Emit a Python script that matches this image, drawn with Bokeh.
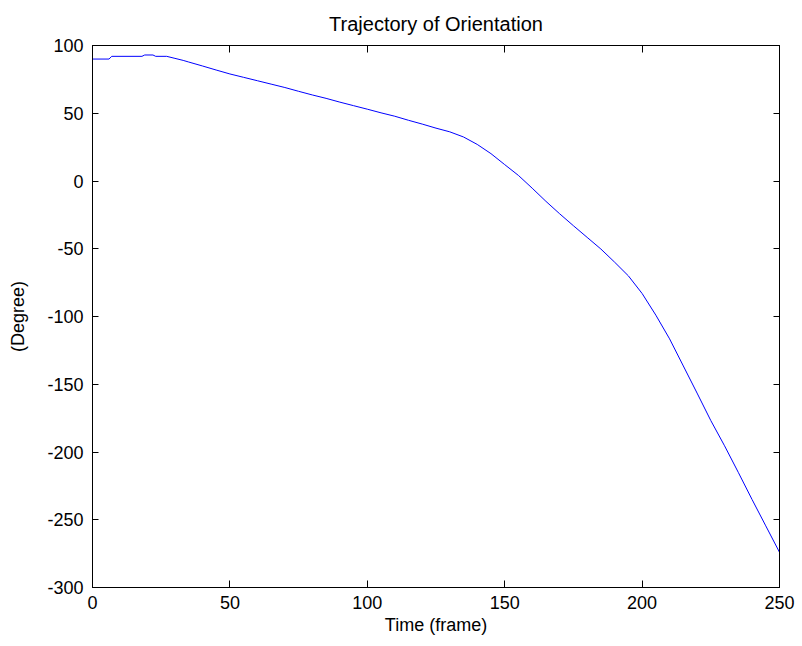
from bokeh.plotting import figure
from bokeh.models import Range1d, FixedTicker, LinearAxis
from bokeh.embed import file_html
from bokeh.resources import INLINE

# --- data ---
frames = [0, 6, 7, 18, 19, 22, 23, 27, 30, 33, 35, 40, 45, 50, 55, 60, 65, 70, 75, 80,
          85, 90, 95, 100, 105, 110, 115, 120, 125, 130, 135, 140, 145, 150, 155, 160,
          165, 170, 175, 180, 185, 190, 195, 200, 205, 210, 215, 220, 225, 230, 235,
          240, 245, 250]
degrees = [90, 90, 92, 92, 93, 93, 92, 92, 90.5, 89, 87.8, 84.9, 81.9, 79, 76.5, 74,
           71.5, 69, 66.2, 63.5, 61, 58.2, 55.6, 53, 50.3, 47.8, 44.8, 42, 39, 36.3,
           32.5, 27, 20.2, 12.1, 4.1, -5.3, -15, -24.2, -33, -41.6, -50.2, -59.9, -70,
           -83, -99, -116.5, -136.5, -156.5, -176.8, -195.4, -215, -235, -254.5, -274]

x_ticks = [0, 50, 100, 150, 200, 250]
y_ticks = [-300, -250, -200, -150, -100, -50, 0, 50, 100]
y_tick_labels = {t: str(t) for t in y_ticks}
x_tick_labels = {t: str(t) for t in x_ticks}

FONT = "Liberation Sans"

p = figure(width=802, height=646, output_backend="svg", toolbar_location=None,
           x_range=Range1d(0, 250), y_range=Range1d(-300, 100),
           title="Trajectory of Orientation",
           min_border_left=92, min_border_right=23, min_border_top=45,
           min_border_bottom=59)

p.line(frames, degrees, line_color="#0000ff", line_width=1)

p.background_fill_color = "white"
p.border_fill_color = "white"
p.outline_line_color = "black"
p.outline_line_width = 1
p.xgrid.visible = False
p.ygrid.visible = False

p.title.align = "center"
p.title.text_font = FONT
p.title.text_font_size = "20px"
p.title.text_font_style = "normal"
p.title.text_color = "black"
p.title.standoff = 21

for ax in p.xaxis:
    ax.ticker = FixedTicker(ticks=x_ticks)
    ax.major_label_overrides = x_tick_labels
    ax.axis_label = "Time (frame)"
for ax in p.yaxis:
    ax.ticker = FixedTicker(ticks=y_ticks)
    ax.major_label_overrides = y_tick_labels
    ax.axis_label = "(Degree)"

for ax in list(p.xaxis) + list(p.yaxis):
    ax.major_label_text_font = FONT
    ax.major_label_text_font_size = "18px"
    ax.major_label_text_color = "black"
    ax.axis_label_text_font = FONT
    ax.axis_label_text_font_size = "18px"
    ax.axis_label_text_font_style = "normal"
    ax.axis_label_text_color = "black"
    ax.minor_tick_line_color = None
    ax.major_tick_out = 0
    ax.axis_line_color = "black"
    ax.major_tick_line_color = "black"

p.xaxis.major_tick_in = 7
p.yaxis.major_tick_in = 6
p.xaxis.major_label_standoff = 8
p.xaxis.axis_label_standoff = 3
p.yaxis.major_label_standoff = 9
p.yaxis.axis_label_standoff = 16

# ticks on top and right (box), no labels drawn
top = LinearAxis(ticker=FixedTicker(ticks=x_ticks), major_label_text_color=None,
                 major_label_text_font_size="1px",
                 major_tick_in=7, major_tick_out=0, minor_tick_line_color=None,
                 axis_line_color="black", major_tick_line_color="black",
                 major_label_standoff=0)
right = LinearAxis(ticker=FixedTicker(ticks=y_ticks), major_label_text_color=None,
                   major_label_text_font_size="1px",
                   major_tick_in=6, major_tick_out=0, minor_tick_line_color=None,
                   axis_line_color="black", major_tick_line_color="black",
                   major_label_standoff=0)
p.add_layout(top, "above")
p.add_layout(right, "right")

open("out.html", "w").write(file_html(p, INLINE))
